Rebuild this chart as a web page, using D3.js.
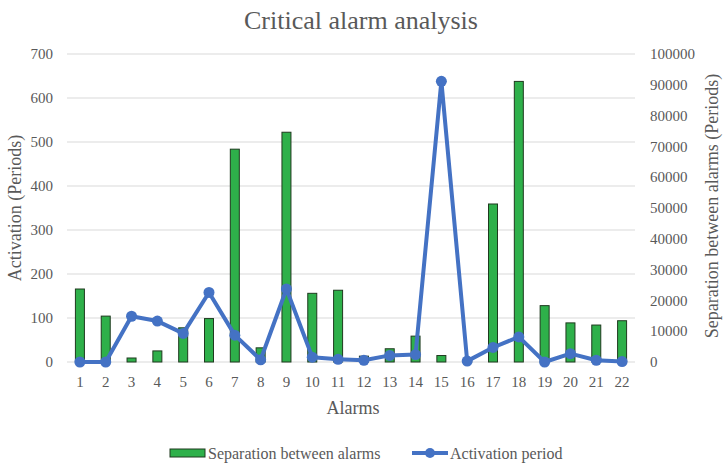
<!DOCTYPE html>
<meta charset="utf-8">
<style>
    body { margin: 0; background: #fff; }
    text { font-family: "Liberation Serif", "Times New Roman", serif; fill: #595959; }
    .grid line { stroke: #d9d9d9; stroke-width: 1; }
    .bars rect { fill: #2eb04a; stroke: #1f3a1f; stroke-width: 1; }
</style>

<svg width="723" height="466"></svg>

<script src="https://d3js.org/d3.v7.min.js"></script>
<script>
var alarms = d3.range(1, 23).map(String);
// bars: separation between alarms (right axis)
var separation = [23700, 14900, 1300, 3600, 11100, 14100, 69100, 4600, 74600, 22300, 23300,
                  1900, 4300, 8400, 2100, 700, 51300, 91100, 18300, 12700, 12000, 13400];
// line: activation period (left axis)
var activation = [0, 0, 104, 93, 65, 158, 61, 5, 166, 11, 6,
                  4, 15, 17, 638, 2, 33, 57, 0, 19, 4, 1];
var leftTicks = [0, 100, 200, 300, 400, 500, 600, 700];
var rightTicks = [0, 10000, 20000, 30000, 40000, 50000, 60000, 70000, 80000, 90000, 100000];

var m = { top: 54, right: 88, bottom: 104, left: 67 },
    W = 723, H = 466;

var svg = d3.select("svg");

var x = d3.scaleBand().domain(alarms).range([m.left, W - m.right]);
var yL = d3.scaleLinear().domain([0, 700]).range([H - m.bottom, m.top]);
var yR = d3.scaleLinear().domain([0, 100000]).range([H - m.bottom, m.top]);

// gridlines
svg.append("g").attr("class", "grid")
    .selectAll("line").data(leftTicks).enter().append("line")
    .attr("x1", m.left).attr("x2", W - m.right)
    .attr("y1", function(d) { return yL(d); })
    .attr("y2", function(d) { return yL(d); });

// left axis labels
svg.append("g").selectAll("text").data(leftTicks).enter().append("text")
    .attr("x", 53).attr("y", function(d) { return yL(d); })
    .attr("dy", "0.35em").attr("text-anchor", "end")
    .style("font-size", "15px")
    .text(function(d) { return d; });

// right axis labels
svg.append("g").selectAll("text").data(rightTicks).enter().append("text")
    .attr("x", 650).attr("y", function(d) { return yR(d); })
    .attr("dy", "0.35em").attr("text-anchor", "start")
    .style("font-size", "15px")
    .text(function(d) { return d; });

// x labels
svg.append("g").selectAll("text").data(alarms).enter().append("text")
    .attr("x", function(d) { return x(d) + x.bandwidth() / 2; })
    .attr("y", 382).attr("dy", "0.35em").attr("text-anchor", "middle")
    .style("font-size", "15px")
    .text(function(d) { return d; });

// bars
var bw = 9;
svg.append("g").attr("class", "bars")
    .selectAll("rect").data(separation).enter().append("rect")
    .attr("x", function(d, i) { return x(alarms[i]) + x.bandwidth() / 2 - bw / 2; })
    .attr("width", bw)
    .attr("y", function(d) { return yR(d); })
    .attr("height", function(d) { return yR(0) - yR(d); });

// line
var line = d3.line()
    .x(function(d, i) { return x(alarms[i]) + x.bandwidth() / 2; })
    .y(function(d) { return yL(d); });
svg.append("path").datum(activation)
    .attr("d", line)
    .attr("fill", "none").attr("stroke", "#4472c4")
    .attr("stroke-width", 4).attr("stroke-linejoin", "round");
svg.append("g").selectAll("circle").data(activation).enter().append("circle")
    .attr("cx", function(d, i) { return x(alarms[i]) + x.bandwidth() / 2; })
    .attr("cy", function(d) { return yL(d); })
    .attr("r", 5.5).attr("fill", "#4472c4");

// titles
svg.append("text").attr("x", 361).attr("y", 29).attr("text-anchor", "middle")
    .style("font-size", "26px").text("Critical alarm analysis");
svg.append("text").attr("x", 353).attr("y", 414).attr("text-anchor", "middle")
    .style("font-size", "18px").text("Alarms");
svg.append("text").attr("transform", "translate(21,208) rotate(-90)")
    .attr("text-anchor", "middle").style("font-size", "18px").text("Activation (Periods)");
svg.append("text").attr("transform", "translate(718,206) rotate(-90)")
    .attr("text-anchor", "middle").style("font-size", "18px").text("Separation between alarms (Periods)");

// legend
var lg = svg.append("g");
lg.append("rect").attr("x", 170).attr("y", 449).attr("width", 35).attr("height", 8)
    .attr("fill", "#2eb04a").attr("stroke", "#1f3a1f");
lg.append("text").attr("x", 208).attr("y", 453).attr("dy", "0.35em")
    .style("font-size", "16px").text("Separation between alarms");
lg.append("line").attr("x1", 412).attr("x2", 448).attr("y1", 453).attr("y2", 453)
    .attr("stroke", "#4472c4").attr("stroke-width", 4);
lg.append("circle").attr("cx", 430).attr("cy", 453).attr("r", 5).attr("fill", "#4472c4");
lg.append("text").attr("x", 450).attr("y", 453).attr("dy", "0.35em")
    .style("font-size", "16px").text("Activation period");
</script>
